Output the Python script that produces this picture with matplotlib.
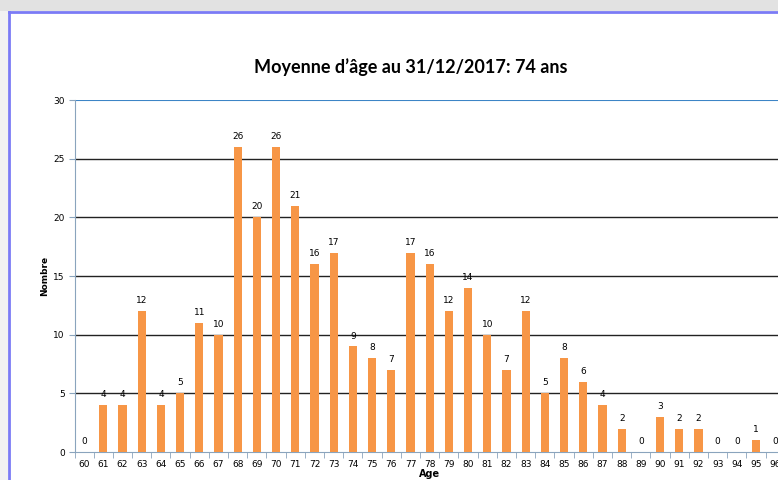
import matplotlib.pyplot as plt
from matplotlib.patches import Rectangle
from matplotlib.lines import Line2D

# Data
ages = list(range(60, 97))
counts = [0, 4, 4, 12, 4, 5, 11, 10, 26, 20, 26, 21, 16, 17, 9, 8, 7,
          17, 16, 12, 14, 10, 7, 12, 5, 8, 6, 4, 2, 0, 3, 2, 2, 0, 0, 1, 0]
yticks = [0, 5, 10, 15, 20, 25, 30]

W, H = 778, 480
fig = plt.figure(figsize=(W / 100, H / 100), dpi=100)
fig.patch.set_facecolor('white')

# screenshot frame: grey band on top, light strip on the left, blue border
fig.add_artist(Rectangle((0, 1 - 11 / H), 1, 11 / H, transform=fig.transFigure,
                         facecolor='#e2e2e2', edgecolor='none', zorder=0))
fig.add_artist(Rectangle((0, 0), 8 / W, 1 - 11 / H, transform=fig.transFigure,
                         facecolor='#f2f2f2', edgecolor='none', zorder=0))
fig.add_artist(Line2D([8.5 / W, 8.5 / W], [0, 1 - 11.5 / H], transform=fig.transFigure,
                      color='#7b7bf5', lw=2))
fig.add_artist(Line2D([8.5 / W, 1], [1 - 11.5 / H, 1 - 11.5 / H], transform=fig.transFigure,
                      color='#7b7bf5', lw=2))

# axes extend past the right edge (chart is cropped)
left, right = 74.5, 74.5 + 37 * 19.2
top, bottom = 100, 452
ax = fig.add_axes([left / W, 1 - bottom / H, (right - left) / W, (bottom - top) / H])

x = list(range(len(ages)))
bars = ax.bar(x, counts, width=0.42, color='#f79646', zorder=3)
for xi, c in zip(x, counts):
    ax.text(xi, c + 0.5, str(c), ha='center', va='bottom', fontsize=6.5, color='black')

ax.set_xlim(-0.5, len(ages) - 0.5)
ax.set_ylim(0, 30)
ax.set_yticks(yticks)
ax.set_yticklabels([str(t) for t in yticks], fontsize=6.5)
ax.set_xticks(x)
ax.set_xticklabels([str(a) for a in ages], fontsize=6.5)
ax.set_xticks([i - 0.5 for i in range(len(ages) + 1)], minor=True)
ax.tick_params(axis='x', which='major', length=0, pad=6)
ax.tick_params(axis='x', which='minor', length=4, color='#8aa4bd')
ax.tick_params(axis='y', length=4, color='#8aa4bd', pad=3)

for t in yticks[1:-1]:
    ax.axhline(t, color='#222222', lw=1, zorder=1)
ax.axhline(30, color='#3d85c6', lw=1.5, zorder=1)

for s in ['top', 'right']:
    ax.spines[s].set_visible(False)
ax.spines['left'].set_color('#8aa4bd')
ax.spines['bottom'].set_color('#8aa4bd')

ax.set_ylabel('Nombre', fontsize=6.5, fontweight='bold', labelpad=3)
ax.set_xlabel('Age', fontsize=7, fontweight='bold', labelpad=0)

fig.text(411 / W, 1 - 67 / H, 'Moyenne d\u2019âge au 31/12/2017: 74 ans',
         ha='center', va='center', fontsize=13, fontweight='bold',
         family=['Lato', 'DejaVu Sans'])

fig.savefig('out.png', dpi=100)
